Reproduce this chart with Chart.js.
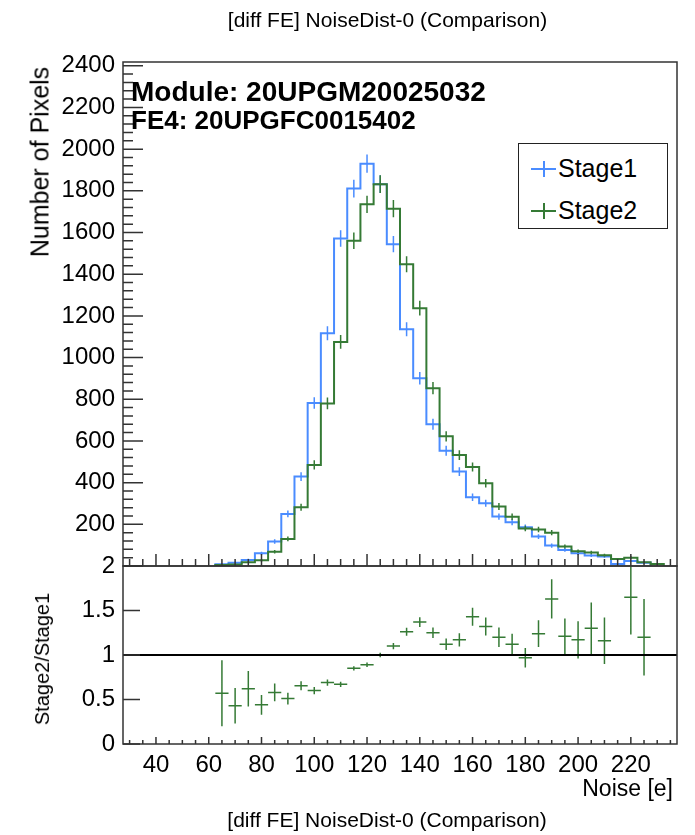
<!DOCTYPE html>
<html><head><meta charset="utf-8">
<script src="https://cdn.jsdelivr.net/npm/chart.js@4.4.1/dist/chart.umd.min.js"></script>
<style>
html,body{margin:0;padding:0;background:#fff;}
#wrap{position:relative;width:695px;height:835px;overflow:hidden;font-family:"Liberation Sans",Arial,sans-serif;color:#000;}
canvas{position:absolute;left:0;}
.t{position:absolute;white-space:nowrap;line-height:1;}
</style></head><body>
<div id="wrap">
<canvas id="topc" width="695" height="600" style="top:0px"></canvas>
<canvas id="botc" width="695" height="295" style="top:540px"></canvas>
<div class="t" style="left:387.5px;top:9px;font-size:21px;transform:translateX(-50%)">[diff FE] NoiseDist-0 (Comparison)</div>
<div class="t" style="left:387px;top:809px;font-size:21px;transform:translateX(-50%)">[diff FE] NoiseDist-0 (Comparison)</div>
<div class="t" style="left:131px;top:78px;font-size:28px;font-weight:bold">Module: 20UPGM20025032</div>
<div class="t" style="left:131px;top:107px;font-size:26px;font-weight:bold">FE4: 20UPGFC0015402</div>
<div class="t" style="left:40px;top:161.5px;font-size:25px;transform:translate(-50%,-50%) rotate(-90deg)">Number of Pixels</div>
<div class="t" style="left:42px;top:659px;font-size:20px;transform:translate(-50%,-50%) rotate(-90deg)">Stage2/Stage1</div>
<div class="t" style="right:22px;top:777px;font-size:23px">Noise [e]</div>
<div style="position:absolute;left:518px;top:143px;width:150px;height:86px;box-sizing:border-box;border:1px solid #222;background:#fff">
  <div style="position:absolute;left:12px;top:24px;width:25px;height:2px;background:#4a8cff"></div>
  <div style="position:absolute;left:24px;top:17px;width:2px;height:16px;background:#4a8cff"></div>
  <div class="t" style="left:39px;top:12px;font-size:25px">Stage1</div>
  <div style="position:absolute;left:12px;top:66px;width:25px;height:2px;background:#357a35"></div>
  <div style="position:absolute;left:24px;top:59px;width:2px;height:16px;background:#357a35"></div>
  <div class="t" style="left:39px;top:54px;font-size:25px">Stage2</div>
</div>
</div>
<script>
// ---- data ----
const binWidth = 5;
const noiseBins = [30,35,40,45,50,55,60,65,70,75,80,85,90,95,100,105,110,115,120,125,130,135,140,145,150,155,160,165,170,175,180,185,190,195,200,205,210,215,220,225,230,235];
const stage1 = [0,0,0,0,0,0,0,8,16,29,61,117,250,429,782,1117,1571,1811,1930,1832,1544,1136,901,680,553,453,330,301,237,210,186,141,98,77,61,50,45,10,24,15,0,0];
const stage2 = [0,0,0,0,0,0,0,5,7,18,27,68,130,282,485,780,1075,1560,1735,1832,1714,1448,1237,853,622,532,475,397,285,236,180,175,160,93,71,65,52,33,40,18,10,0];
const stage1Err = [0,0,0,0,0,0,0,2.8,4,5.4,7.8,10.8,15.8,20.7,28,33.4,39.6,42.6,43.9,42.8,39.3,33.7,30,26.1,23.5,21.3,18.2,17.3,15.4,14.5,13.6,11.9,9.9,8.8,7.8,7.1,6.7,3.2,4.9,3.9,0,0];
const stage2Err = [0,0,0,0,0,0,0,2.2,2.6,4.2,5.2,8.2,11.4,16.8,22,27.9,32.8,39.5,41.7,42.8,41.4,38.1,35.2,29.2,24.9,23.1,21.8,19.9,16.9,15.4,13.4,13.2,12.6,9.6,8.4,8.1,7.2,5.7,6.3,4.2,3.2,0];
const ratio = [null,null,null,null,null,null,null,0.57,0.43,0.62,0.44,0.58,0.51,0.655,0.60,0.69,0.67,0.85,0.89,1.00,1.10,1.26,1.37,1.25,1.12,1.17,1.43,1.32,1.20,1.12,0.97,1.24,1.63,1.21,1.17,1.30,1.16,null,1.65,1.20,null,null];
const ratioErr = [null,null,null,null,null,null,null,0.37,0.20,0.20,0.11,0.10,0.065,0.05,0.04,0.035,0.03,0.025,0.025,0.025,0.035,0.045,0.055,0.06,0.065,0.075,0.10,0.10,0.11,0.12,0.11,0.15,0.22,0.20,0.21,0.29,0.26,null,0.42,0.43,null,null];
const xTicks = [40,60,80,100,120,140,160,180,200,220];
const yTicksTop = [200,400,600,800,1000,1200,1400,1600,1800,2000,2200,2400];
const yTicksRatio = [0,0.5,1,1.5,2];
const yTicksRatioLabels = ['0','0.5','1','1.5','2'];

const BLUE = '#4a8cff', GREEN = '#357a35', AXIS = '#333';
const X_MIN = 27.5, X_MAX = 237.5;

function histSteps(vals){
  let first = vals.findIndex(v => v > 0);
  let last = vals.length - 1; while (last >= 0 && !(vals[last] > 0)) last--;
  const pts = [{x: noiseBins[first] - binWidth/2, y: 0}];
  for (let i = first; i <= last; i++) pts.push({x: noiseBins[i] - binWidth/2, y: vals[i]});
  pts.push({x: noiseBins[last] + binWidth/2, y: 0});
  return pts;
}
function errSegs(vals, errs){
  const pts = [];
  vals.forEach((v, i) => {
    if (v > 0 && errs[i] > 0) {
      const c = noiseBins[i];
      pts.push({x: c, y: v - errs[i]}, {x: c, y: v + errs[i]}, {x: c, y: null});
    }
  });
  return pts;
}
function crossSegs(vals, errs){
  const pts = [];
  vals.forEach((r, i) => {
    if (r == null) return;
    const c = noiseBins[i];
    pts.push({x: c - binWidth/2, y: r}, {x: c + binWidth/2, y: r}, {x: c, y: null},
             {x: c, y: r - errs[i]}, {x: c, y: r + errs[i]}, {x: c, y: null});
  });
  return pts;
}

function frameTicks(cfg){
  return {
    id: 'frameTicks',
    afterDatasetsDraw(chart){
      const {ctx, chartArea: a, scales: {x, y}} = chart;
      ctx.save();
      ctx.strokeStyle = AXIS; ctx.lineWidth = 1.5;
      ctx.strokeRect(a.left, a.top, a.right - a.left, a.bottom - a.top);
      ctx.beginPath();
      for (let k = 0; ; k++) {
        const v = cfg.yStart + k * cfg.yMinor;
        if (v > cfg.yEnd + 1e-9) break;
        const r = v / cfg.yMajor;
        const major = Math.abs(r - Math.round(r)) < 1e-6;
        const py = y.getPixelForValue(v);
        ctx.moveTo(a.left, py); ctx.lineTo(a.left + (major ? cfg.yMajorLen : cfg.yMinorLen), py);
      }
      for (let v = 30; v <= X_MAX; v += 5) {
        const px = x.getPixelForValue(v);
        const major = v % 20 === 0;
        ctx.moveTo(px, a.bottom); ctx.lineTo(px, a.bottom - (major ? cfg.xMajorLen : cfg.xMinorLen));
      }
      ctx.stroke();
      ctx.restore();
    }
  };
}

const tickFont = {family: '"Liberation Sans", Arial, sans-serif', size: 24};

new Chart(document.getElementById('topc'), {
  type: 'line',
  data: {datasets: [
    {data: errSegs(stage2, stage2Err), borderColor: GREEN, borderWidth: 1.5, pointRadius: 0, spanGaps: false},
    {data: histSteps(stage2), borderColor: GREEN, borderWidth: 2, pointRadius: 0, stepped: true},
    {data: errSegs(stage1, stage1Err), borderColor: BLUE, borderWidth: 1.5, pointRadius: 0, spanGaps: false},
    {data: histSteps(stage1), borderColor: BLUE, borderWidth: 2, pointRadius: 0, stepped: true}
  ]},
  options: {
    responsive: false, animation: false, devicePixelRatio: 1, events: [],
    layout: {padding: {left: 0, right: 18, top: 62, bottom: 34}},
    plugins: {legend: {display: false}, tooltip: {enabled: false}},
    scales: {
      x: {type: 'linear', min: X_MIN, max: X_MAX, display: false},
      y: {type: 'linear', min: 0, max: 2418,
          afterFit: s => { s.width = 123; },
          afterBuildTicks: s => { s.ticks = yTicksTop.map(v => ({value: v})); },
          grid: {display: false, drawTicks: false}, border: {display: false},
          ticks: {font: tickFont, color: '#000', padding: 8, callback: v => String(v)}}
    }
  },
  plugins: [frameTicks({yStart: 0, yEnd: 2400, yMinor: 40, yMajor: 200, yMajorLen: 20, yMinorLen: 10, xMajorLen: 12, xMinorLen: 7})]
});

new Chart(document.getElementById('botc'), {
  type: 'line',
  data: {datasets: [
    {data: [{x: X_MIN, y: 1}, {x: X_MAX, y: 1}], borderColor: '#000', borderWidth: 2, pointRadius: 0},
    {data: crossSegs(ratio, ratioErr), borderColor: GREEN, borderWidth: 1.5, pointRadius: 0, spanGaps: false}
  ]},
  options: {
    responsive: false, animation: false, devicePixelRatio: 1, events: [],
    layout: {padding: {left: 0, right: 18, top: 26, bottom: 0}},
    plugins: {legend: {display: false}, tooltip: {enabled: false}},
    scales: {
      x: {type: 'linear', min: X_MIN, max: X_MAX,
          afterFit: s => { s.height = 91; },
          afterBuildTicks: s => { s.ticks = xTicks.map(v => ({value: v})); },
          grid: {display: false, drawTicks: false}, border: {display: false},
          ticks: {font: tickFont, color: '#000', padding: 7, maxRotation: 0, autoSkip: false, callback: v => String(v)}},
      y: {type: 'linear', min: 0, max: 2,
          afterFit: s => { s.width = 123; },
          afterBuildTicks: s => { s.ticks = yTicksRatio.map(v => ({value: v})); },
          grid: {display: false, drawTicks: false}, border: {display: false},
          ticks: {font: tickFont, color: '#000', padding: 8,
                  callback: v => yTicksRatioLabels[yTicksRatio.indexOf(v)]}}
    }
  },
  plugins: [frameTicks({yStart: 0, yEnd: 2, yMinor: 0.5, yMajor: 0.5, yMajorLen: 17, yMinorLen: 17, xMajorLen: 7, xMinorLen: 4})]
});
</script>
</body></html>
